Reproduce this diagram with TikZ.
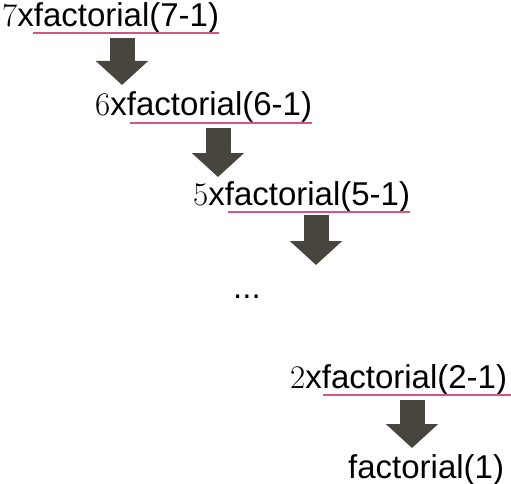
\documentclass[tikz,border=0pt]{standalone}
\usepackage{fontspec}
\setsansfont{Liberation Sans}
\usetikzlibrary{calc,arrows.meta}
\definecolor{arrowgray}{RGB}{72,69,62}
\definecolor{linepink}{RGB}{214,84,130}

\begin{document}
\begin{tikzpicture}[x=1pt,y=-1pt,
    callline/.style={anchor=base west,inner sep=0pt,font={\fontsize{33}{33}\selectfont}},
    uline/.style={draw=linepink,line width=1.2pt},
    down/.style={draw=arrowgray,line width=25pt,-{Triangle[length=24pt,width=51pt,fill=arrowgray]}}]
                \useasboundingbox (0,0) rectangle (511,484);

                \node[callline] (seven) at (2,27) {7{\sffamily xfactorial(7-1)}};
                \node[callline] (six) at (95,116) {6{\sffamily xfactorial(6-1)}};
                \node[callline] (five) at (193,205) {5{\sffamily xfactorial(5-1)}};
                \node[callline] (dots) at (233,298) {\sffamily ...};
                \node[callline] (two) at (290,388) {2{\sffamily xfactorial(2-1)}};
                \node[callline] (one) at (348,478) {\sffamily factorial(1)};

                \draw[uline] ($ (seven.base west) + (31,6) $) -- ($ (seven.base east) + (0,6) $);
                \draw[uline] ($ (six.base west) + (35,7) $) -- ($ (six.base east) + (0,7) $);
                \draw[uline] ($ (five.base west) + (35,7) $) -- ($ (five.base east) + (0,7) $);
                \draw[uline] ($ (two.base west) + (33,7) $) -- (511,395);

                \coordinate (top7) at (122,38);
                \coordinate (tip7) at (122,85);
                \coordinate (top6) at (218,128);
                \coordinate (tip6) at (218,177);
                \coordinate (top5) at (316,215);
                \coordinate (tip5) at (316,265);
                \coordinate (top2) at (412,400);
                \coordinate (tip2) at (412,448);

                \draw[down] (top7) -- (tip7);
                \draw[down] (top6) -- (tip6);
                \draw[down] (top5) -- (tip5);
                \draw[down] (top2) -- (tip2);
            \end{tikzpicture}
\end{document}
